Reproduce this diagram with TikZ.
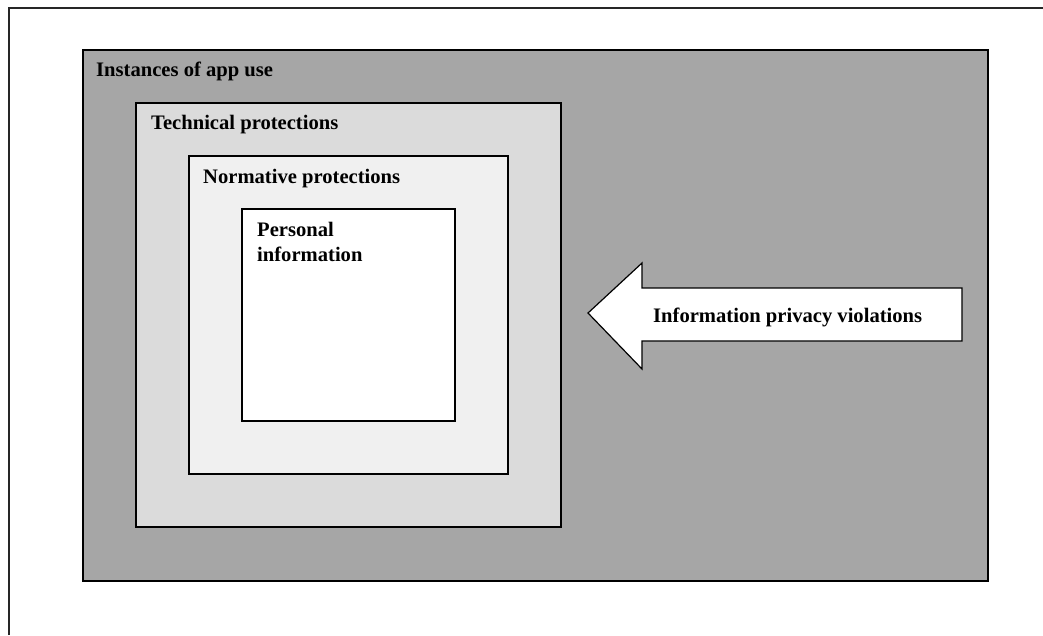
\documentclass[tikz,border=0pt]{standalone}
\usepackage{fontspec}
\setmainfont{Liberation Serif}
\begin{document}
\begin{tikzpicture}[x=1pt,y=-1pt,
  box/.style={draw=black,line width=1.8pt},
  lbl/.style={anchor=base west,inner sep=0pt,font=\bfseries\fontsize{20.6}{25}\selectfont,align=left}]
\useasboundingbox (0,0) rectangle (1043,635);
\fill[white] (0,0) rectangle (1043,635);
\draw[line width=2.2pt,black!85] (9,635) -- (9,8) -- (1043,8);
\draw[box,fill=black!35] (83,50) rectangle (988,581);
\draw[box,fill=black!14] (136,103) rectangle (561,527);
\draw[box,fill=black!6] (189,156) rectangle (508,474);
\draw[box,fill=white] (242,209) rectangle (455,421);
\node[lbl] (inst) at (96,76) {Instances of app use};
\node[lbl] (tech) at (151,129) {Technical protections};
\node[lbl] (norm) at (203,183) {Normative protections};
\node[lbl] (pers) at (257,236) {Personal};
\node[lbl] (pers2) at (257,261) {information};
\draw[line width=1.2pt,fill=white] (588,313) -- (642,263) -- (642,288) -- (962,288) -- (962,341) -- (642,341) -- (642,369) -- cycle;
\node[lbl] (viol) at (653,322) {Information privacy violations};
\end{tikzpicture}
\end{document}
